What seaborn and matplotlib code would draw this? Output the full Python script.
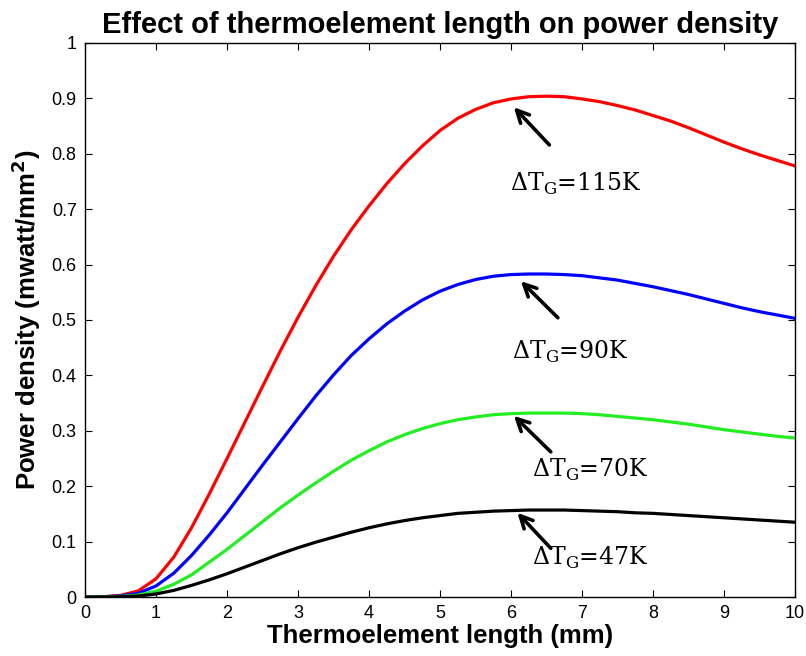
import matplotlib
matplotlib.use("Agg")
import matplotlib.pyplot as plt
import seaborn as sns
import pandas as pd

length_mm = [0, 0.25, 0.5, 0.75, 1, 1.25, 1.5, 1.75, 2, 2.25, 2.5, 2.75, 3,
             3.25, 3.5, 3.75, 4, 4.25, 4.5, 4.75, 5, 5.25, 5.5, 5.75, 6,
             6.25, 6.5, 6.75, 7, 7.25, 7.5, 7.75, 8, 8.25, 8.5, 8.75, 9,
             9.25, 9.5, 9.75, 10]
p_115 = [0, 0.0005, 0.003, 0.011, 0.033, 0.072, 0.125, 0.186, 0.25, 0.315,
         0.38, 0.444, 0.505, 0.562, 0.615, 0.663, 0.706, 0.746, 0.782, 0.814,
         0.842, 0.864, 0.88, 0.892, 0.899, 0.903, 0.904, 0.903, 0.899, 0.894,
         0.887, 0.879, 0.869, 0.859, 0.847, 0.834, 0.821, 0.809, 0.798, 0.788,
         0.778]
p_90 = [0, 0.0003, 0.002, 0.0066, 0.02, 0.043, 0.075, 0.112, 0.152, 0.195,
        0.238, 0.28, 0.322, 0.363, 0.401, 0.436, 0.466, 0.493, 0.516, 0.536,
        0.552, 0.564, 0.573, 0.579, 0.582, 0.583, 0.583, 0.582, 0.58, 0.576,
        0.572, 0.566, 0.56, 0.553, 0.546, 0.538, 0.53, 0.522, 0.515, 0.509,
        0.503]
p_70 = [0, 0.0002, 0.001, 0.0035, 0.0105, 0.023, 0.04, 0.063, 0.086, 0.111,
        0.136, 0.161, 0.184, 0.206, 0.227, 0.247, 0.264, 0.28, 0.293, 0.304,
        0.313, 0.32, 0.325, 0.329, 0.331, 0.332, 0.332, 0.332, 0.331, 0.329,
        0.326, 0.323, 0.32, 0.316, 0.312, 0.307, 0.302, 0.298, 0.294, 0.29,
        0.287]
p_47 = [0, 0.0001, 0.0005, 0.0018, 0.0055, 0.012, 0.021, 0.031, 0.042, 0.054,
        0.066, 0.078, 0.089, 0.099, 0.108, 0.117, 0.125, 0.132, 0.138, 0.143,
        0.147, 0.151, 0.153, 0.155, 0.156, 0.157, 0.157, 0.157, 0.156, 0.155,
        0.154, 0.152, 0.151, 0.149, 0.147, 0.145, 0.143, 0.141, 0.139, 0.137,
        0.135]
series_names = ["115K", "90K", "70K", "47K"]
series_colors = ["#ff0000", "#0000ff", "#22ee22", "#000000"]
labels = [r"ΔT$_{\mathrm{G}}$=115K", r"ΔT$_{\mathrm{G}}$=90K",
          r"ΔT$_{\mathrm{G}}$=70K", r"ΔT$_{\mathrm{G}}$=47K"]
arrow_heads = [(6.04, 0.884), (6.14, 0.570), (6.04, 0.327), (6.09, 0.152)]
arrow_tails = [(6.54, 0.816), (6.66, 0.504), (6.56, 0.262), (6.56, 0.088)]
label_pos = [(6.91, 0.745), (6.84, 0.442), (7.12, 0.229), (7.12, 0.070)]

sns.set_style("ticks")
plt.rcParams["font.family"] = ["Liberation Sans", "DejaVu Sans"]
plt.rcParams["mathtext.fontset"] = "custom"
plt.rcParams["mathtext.rm"] = "DejaVu Serif"
plt.rcParams["text.color"] = "black"
plt.rcParams["axes.labelcolor"] = "black"
plt.rcParams["xtick.color"] = "black"
plt.rcParams["ytick.color"] = "black"

frames = []
for name, vals in zip(series_names, [p_115, p_90, p_70, p_47]):
    frames.append(pd.DataFrame({"x": length_mm, "y": vals, "series": name}))
df = pd.concat(frames, ignore_index=True)

fig = plt.figure(figsize=(8.06, 6.56), dpi=100)
ax = fig.add_axes([0.1055, 0.0899, 0.8809, 0.8446])
sns.lineplot(data=df, x="x", y="y", hue="series", hue_order=series_names,
             palette=series_colors, linewidth=2.3, legend=False, ax=ax,
             estimator=None, sort=False)

for lab, head, tail, pos in zip(labels, arrow_heads, arrow_tails, label_pos):
    ax.annotate("", xy=head, xytext=tail,
                arrowprops=dict(arrowstyle="->", lw=2.6, color="black",
                                mutation_scale=22, shrinkA=0, shrinkB=0))
    ax.text(pos[0], pos[1], lab, ha="center", va="center", fontsize=17,
            family=["DejaVu Serif"], color="black")

ax.set_xlim(0, 10)
ax.set_ylim(0, 1)
ax.set_xticks(range(0, 11))
ax.set_yticks([i / 10 for i in range(11)])
ax.set_xticklabels([str(i) for i in range(11)])
ax.set_yticklabels(["0"] + [f"{i/10:.1f}" for i in range(1, 10)] + ["1"])
ax.tick_params(direction="in", length=5, width=0.8, top=True, right=True,
               labelsize=13, colors="black", pad=6)
for s in ax.spines.values():
    s.set_visible(True)
    s.set_linewidth(1.0)
    s.set_color("black")

ax.set_xlabel("Thermoelement length (mm)", fontsize=18.5, fontweight="bold", labelpad=1)
ax.set_ylabel(r"Power density (mwatt/mm$^{\mathbf{2}}$)", fontsize=18.5,
              fontweight="bold", labelpad=6)
ax.set_title("Effect of thermoelement length on power density", fontsize=21,
             fontweight="bold", pad=7)

fig.savefig("out.png", dpi=100)
